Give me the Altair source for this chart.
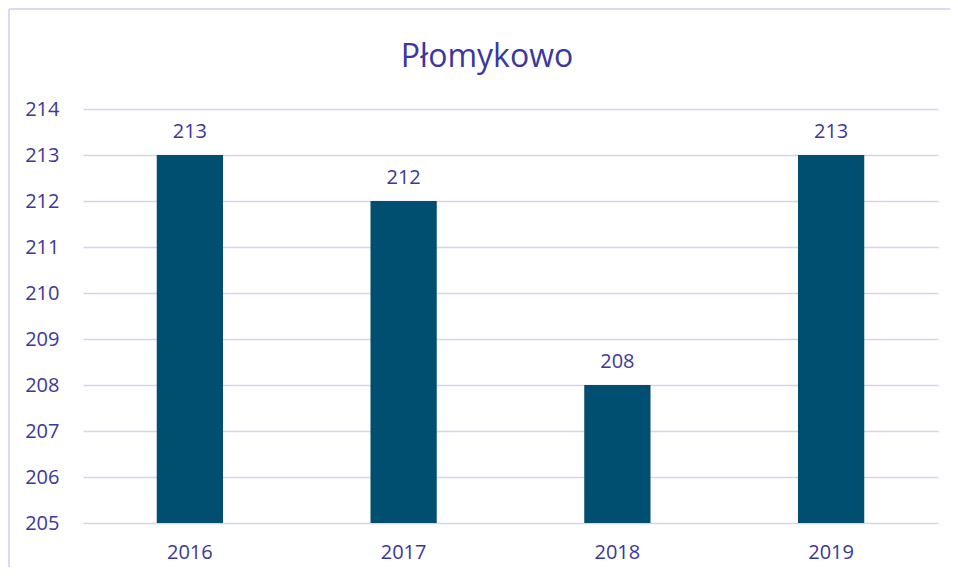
import altair as alt
import pandas as pd

years = ["2016", "2017", "2018", "2019"]
values = [213, 212, 208, 213]
title_text = ["Płomykowo"]

TXT = "#3C379C"
BAR = "#004F71"
GRID = "#D6D2F0"
FONT = "Open Sans"

df = pd.DataFrame({"year": years, "value": values})

x_enc = alt.X("year:N", sort=years, title=None,
              scale=alt.Scale(paddingInner=0.69, paddingOuter=0.345),
              axis=alt.Axis(labelAngle=0, labelFont=FONT, labelFontSize=20,
                            labelColor=TXT, labelPadding=19, ticks=False,
                            domain=False, grid=False))
y_enc = alt.Y("value:Q", title=None,
              scale=alt.Scale(domain=[205, 214], zero=False, nice=False),
              axis=alt.Axis(values=list(range(205, 215)), labelFont=FONT,
                            labelFontSize=20, labelColor=TXT, labelPadding=24,
                            ticks=False, domain=False, grid=True,
                            gridColor=GRID, gridWidth=1.5))

bars = alt.Chart(df).mark_bar(color=BAR).encode(x=x_enc, y=y_enc, y2=alt.datum(205))

labels = alt.Chart(df).mark_text(font=FONT, fontSize=20, color=TXT,
                                 baseline="alphabetic", dy=-17).encode(
    x=alt.X("year:N", sort=years), y="value:Q", text="value:Q")

title = alt.Chart(pd.DataFrame({"t": title_text})).mark_text(
    font=FONT, fontSize=32, color=TXT, baseline="alphabetic", align="center").encode(
    x=alt.value(404), y=alt.value(-42), text="t:N")

one = pd.DataFrame({"t": title_text})
frame_top = alt.Chart(one).mark_rule(color="#D0CCEE", strokeWidth=1.5).encode(
    x=alt.value(-74), x2=alt.value(867), y=alt.value(-100))
frame_left = alt.Chart(one).mark_rule(color="#D0CCEE", strokeWidth=1.5).encode(
    x=alt.value(-74), y=alt.value(-100), y2=alt.value(458))

chart = alt.layer(frame_top, frame_left, bars, labels, title).properties(
    width=855, height=414,
    autosize=alt.AutoSizeParams(type="none"),
    padding={"left": 75, "top": 101, "right": 12, "bottom": 44},
).configure_view(stroke=None)

chart.save("out.html", embed_options={"renderer": "svg", "actions": False})
